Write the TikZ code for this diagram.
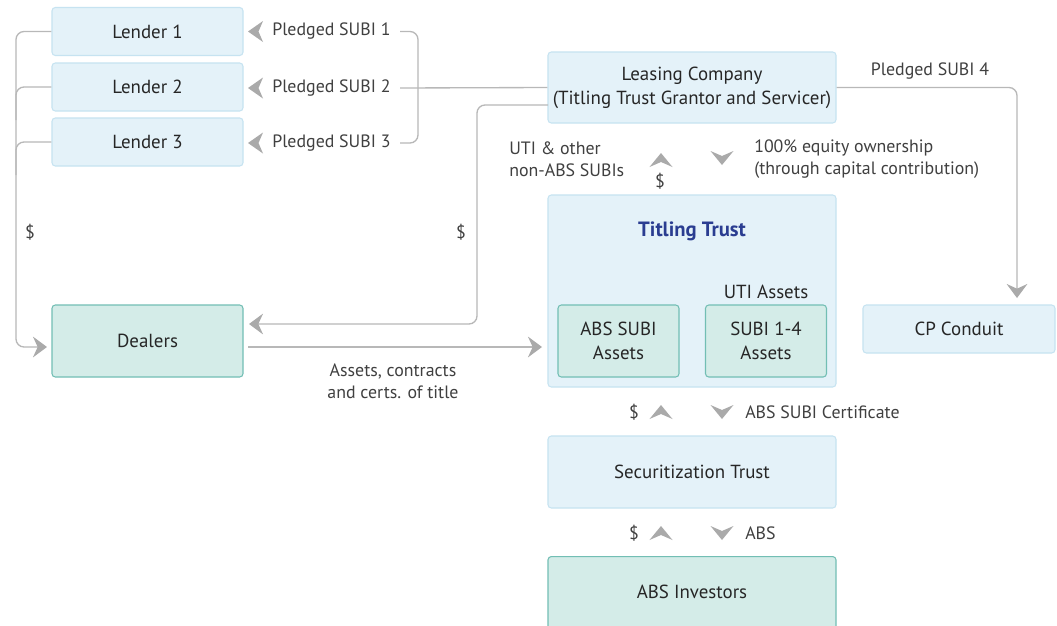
\documentclass[tikz,border=0pt]{standalone}
\usepackage{fontspec}
\setmainfont{PT Sans}
\usetikzlibrary{arrows.meta}
\definecolor{boxfill}{HTML}{E4F2F9}
\definecolor{boxdraw}{HTML}{C6E3F1}
\definecolor{tealfill}{HTML}{D4ECE8}
\definecolor{tealdraw}{HTML}{72BEB4}
\definecolor{linegrey}{HTML}{B8B8B8}
\definecolor{tipgrey}{HTML}{AAAAAA}
\definecolor{txt}{HTML}{262626}
\definecolor{lbl}{HTML}{404040}
\definecolor{ttblue}{HTML}{2A3D91}
\tikzset{
  chevup/.pic={\fill[tipgrey] (0,-7)--(11.5,7)--(0,2)--(-11.5,7)--cycle;},
  chevdown/.pic={\fill[tipgrey] (0,7)--(11.5,-7)--(0,-2)--(-11.5,-7)--cycle;},
  chevleft/.pic={\fill[tipgrey] (-7.5,0)--(7.5,-10.5)--(3,0)--(7.5,10.5)--cycle;},
}
\begin{document}
\begin{tikzpicture}[x=0.75pt,y=-0.75pt,
  font=\fontsize{14.2}{18}\selectfont, text=txt,
  bluebox/.style={draw=boxdraw, fill=boxfill, rounded corners=2.5pt, line width=0.8pt, inner sep=0pt, align=center},
  tealbox/.style={draw=tealdraw, fill=tealfill, rounded corners=2.5pt, line width=0.8pt, inner sep=0pt, align=center},
  lab/.style={text=lbl, inner sep=0pt, font=\fontsize{13.4}{16.5}\selectfont},
  conn/.style={draw=linegrey, line width=1pt, rounded corners=6pt},
  tipped/.style={conn, -{Stealth[length=10.5pt, width=15.5pt, inset=3.5pt, color=tipgrey]}}]
\useasboundingbox (0,0) rectangle (1057,625);
\fill[white] (0,0) rectangle (1057,625);

% boxes
\node[bluebox, minimum width=143.25pt, minimum height=36pt] (L1) at (147.5,31.5) {Lender 1};
\node[bluebox, minimum width=143.25pt, minimum height=36pt] (L2) at (147.5,87) {Lender 2};
\node[bluebox, minimum width=143.25pt, minimum height=36pt] (L3) at (147.5,142) {Lender 3};
\node[tealbox, minimum width=143.25pt, minimum height=54pt] (D) at (147.5,341) {Dealers};
\node[bluebox, minimum width=216pt, minimum height=53.25pt] (LC) at (692,87.5) {Leasing Company\\(Titling Trust Grantor and Servicer)};
\node[bluebox, minimum width=216pt, minimum height=144pt] (TT) at (692,291) {};
\node[text=ttblue, font=\fontsize{15.5}{18}\selectfont\bfseries, inner sep=0pt] (TTt) at (692,231) {Titling Trust};
\node[tealbox, minimum width=90.75pt, minimum height=54pt] (AS) at (618.5,341) {ABS SUBI\\Assets};
\node[tealbox, minimum width=90.75pt, minimum height=54pt] (SA) at (766,341) {SUBI 1-4\\Assets};
\node[inner sep=0pt] (UTI) at (766,292) {UTI Assets};
\node[bluebox, minimum width=144pt, minimum height=36pt] (CP) at (959,329) {CP Conduit};
\node[bluebox, minimum width=216pt, minimum height=54pt] (ST) at (692,472) {Securitization Trust};
\node[tealbox, minimum width=216pt, minimum height=66pt, anchor=north] (AI) at (692,556) {};
\node[inner sep=0pt] (AIt) at (692,592) {ABS Investors};

% pledged SUBI labels
\node[lab, anchor=west] (P1) at (272,31.5) {Pledged SUBI 1};
\node[lab, anchor=west] (P2) at (272,88) {Pledged SUBI 2};
\node[lab, anchor=west] (P3) at (272,143) {Pledged SUBI 3};
\pic at (255.5,31.5) {chevleft};
\pic at (255.5,88) {chevleft};
\pic at (255.5,143) {chevleft};
\node[lab] (P4) at (930,71) {Pledged SUBI 4};

% connectors: pledged SUBIs
\draw[conn] ([xshift=7pt]P1.east) -- (418,31.5) -- (418,143) -- ([xshift=7pt]P3.east);
\draw[conn] ([xshift=7pt]P2.east) -- (LC.west);

% lenders to dealers
\coordinate (dIn) at (47,347);
\draw[tipped] (L1.west) -- (16,31.5) -- (16,347) -- (dIn);
\draw[conn] (L2.west) -- (16,87) -- (16,120);
\draw[conn] (L3.west) -- (16,142) -- (16,175);
\node[lab] (d1) at (30,232) {\$};

% leasing company to dealers
\coordinate (lcOut) at (548,105);
\coordinate (dIn2) at (249,324);
\draw[tipped] (lcOut) -- (477,105) -- (477,324) -- (dIn2);
\node[lab] (d2) at (461,232) {\$};

% dealers to titling trust
\coordinate (dOut) at (248,347);
\coordinate (ttIn) at (542,347);
\draw[tipped] (dOut) -- (ttIn);
\node[lab, align=center] (act) at (393,381) {Assets, contracts\\and certs. of title};

% leasing company to CP conduit
\coordinate (cpIn) at (1017,298);
\draw[tipped] (LC.east) -- (1017,87.5) -- (cpIn);

% leasing company <-> titling trust
\node[lab, anchor=west, align=left] (uti) at (509,159) {UTI \& other\\non-ABS SUBIs};
\pic at (661,160) {chevup};
\node[lab] (d3) at (660,181) {\$};
\pic at (722,158) {chevdown};
\node[lab, anchor=west, align=left] (eq) at (754,159) {100\% equity ownership\\(through capital contribution)};

% titling trust <-> securitization trust
\node[lab] (d4) at (634,412) {\$};
\pic at (661,412) {chevup};
\pic at (722,412) {chevdown};
\node[lab, anchor=west] (cert) at (745,412) {ABS SUBI Certificate};

% securitization trust <-> investors
\node[lab] (d5) at (634,533) {\$};
\pic at (661,533) {chevup};
\pic at (722,533) {chevdown};
\node[lab, anchor=west] (abs) at (745,533) {ABS};
\end{tikzpicture}
\end{document}
